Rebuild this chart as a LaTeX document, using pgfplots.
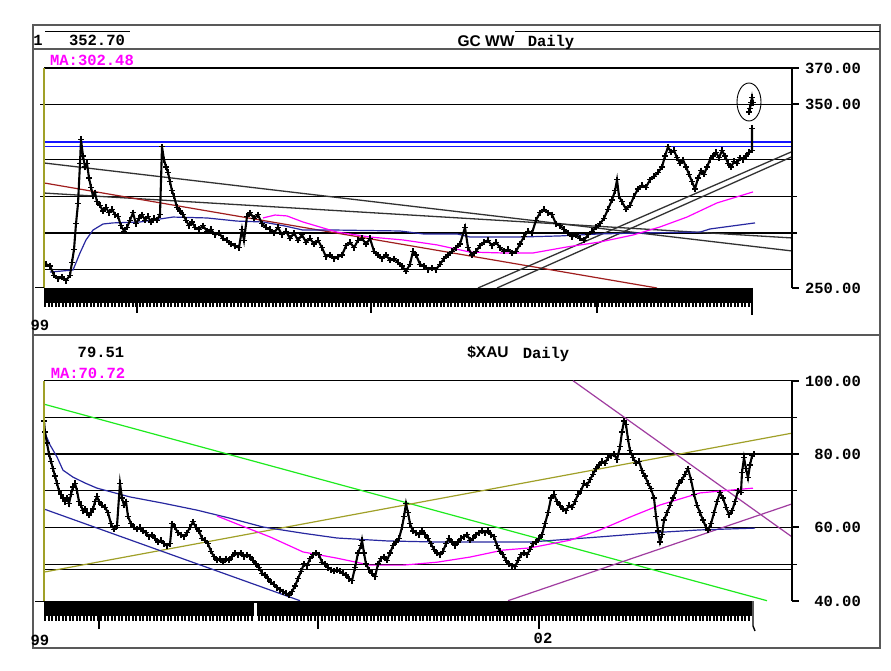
\documentclass[border=0pt]{standalone}
\usepackage{pgfplots}
\pgfplotsset{compat=1.18}
\usepackage{fontspec}
\setmainfont{Liberation Mono}
\newfontfamily\hsans{Liberation Sans}
\definecolor{mag}{RGB}{255,0,255}
\definecolor{mablue}{RGB}{40,40,160}
\definecolor{hblue}{RGB}{20,20,255}
\definecolor{dred}{RGB}{160,30,30}
\definecolor{tgray}{RGB}{50,50,50}
\definecolor{lgreen}{RGB}{30,235,30}
\definecolor{olive}{RGB}{160,160,40}
\definecolor{purp}{RGB}{160,60,160}
\newcommand\lbl{\fontsize{15.5}{15.5}\selectfont\bfseries}
\pgfplotsset{
  panel/.style={anchor=south west, width=748pt, height=220pt, scale only axis,
    xmin=44, xmax=792, hide axis, clip=false},
  lvl/.style={black, line width=1.3pt},
  trend/.style={tgray, line width=1.3pt},
  price/.style={black, line width=2.1pt, mark=+, mark size=3pt, mark options={line width=1.2pt}},
}

\begin{document}
\begin{tikzpicture}
\path[use as bounding box, fill=white] (0pt,0pt) rectangle (891pt,670pt);

% ---------------- GC WW daily ----------------
\begin{axis}[panel, at={(44pt,382pt)}, ymin=250, ymax=370]
  % horizontal levels
  \addplot[lvl] coordinates {(40,350) (797,350)};
  \addplot[lvl] coordinates {(44,370) (797,370)};
  \addplot[lvl] coordinates {(43,320) (792,320)};
  \addplot[lvl] coordinates {(40,300) (797,300)};
  \addplot[lvl] coordinates {(43,280) (797,280)};
  \addplot[lvl] coordinates {(43,260) (792,260)};
  \addplot[hblue, line width=1.4pt] coordinates {(43,329.6) (792,329.6)};
  \addplot[hblue, line width=1.4pt] coordinates {(43,327.3) (792,327.3)};
  % trend lines
  \addplot[trend] coordinates {(44,318.2) (792,270.2)};
  \addplot[trend] coordinates {(44,301.8) (792,277.3)};
  \addplot[dred, line width=1.2pt] coordinates {(44,307.3) (657,250)};
  \addplot[trend] coordinates {(478,250) (792,324.4)};
  \addplot[trend] coordinates {(497,250) (792,321.6)};
  % moving averages
  \addplot[mablue, line width=1.2pt] coordinates {
    (50,258.7) (73,259.8) (80,269.1) (86,276.2) (93,281.6) (103,284.9) (113,285.5)
    (140,286.0) (173,288.7) (207,288.2) (237,286.5) (263,286.0) (285,283.8) (303,281.6)
    (337,281.6) (400,281.1) (423,279.5) (457,279.5) (470,277.8) (520,277.8) (560,278.4)
    (600,279.5) (640,280.0) (700,280.5) (710,282.2) (755,285.5)};
  \addplot[mag, line width=1.2pt] coordinates {
    (263,288.2) (275,289.8) (287,289.3) (303,286.0) (337,280.5) (370,277.8) (403,276.2)
    (437,273.5) (470,269.6) (503,269.1) (533,269.1) (567,272.4) (600,275.1) (633,278.9)
    (660,283.3) (687,288.7) (717,296.4) (753,302.4)};
  % price
  \addplot[price] coordinates {
    (46,263) (50,262) (54,257) (58,255) (62,256) (66,254) (70,257) (72,264) (74,271)
    (76,285) (78,296) (80,318) (81,331) (83,322) (85,316) (87,318) (89,310) (91,305)
    (93,300) (95,302) (97,297) (100,295) (103,292) (106,294) (109,291) (112,293)
    (115,290) (118,289) (121,284) (124,281) (127,283) (130,287) (133,291) (136,285)
    (139,288) (142,290) (145,287) (148,289) (151,286) (154,288) (157,287) (160,290)
    (162,327) (164,320) (166,316) (168,313) (170,308) (172,303) (174,300) (177,294)
    (180,292) (183,290) (186,287) (189,284) (192,286) (195,283) (199,282) (203,284)
    (207,281) (211,282) (215,279) (219,280) (223,277) (227,276) (231,274) (235,273)
    (239,272) (242,282) (244,276) (247,289) (250,291) (254,288) (258,290) (262,285)
    (266,283) (270,282) (274,280) (278,283) (282,279) (286,281) (290,277) (294,280)
    (298,276) (302,279) (306,275) (310,277) (314,274) (318,276) (322,272) (326,267)
    (330,268) (334,266) (338,267) (342,268) (346,273) (350,275) (354,272) (358,276)
    (362,277) (366,274) (370,277) (374,270) (378,268) (382,266) (386,268) (390,265)
    (394,266) (398,264) (402,262) (406,259) (410,263) (413,270) (416,268) (420,263)
    (424,262) (428,260) (432,261) (436,260) (440,263) (444,266) (448,268) (452,270)
    (456,272) (460,274) (465,283) (468,272) (472,268) (476,270) (480,273) (484,275)
    (488,276) (492,273) (496,275) (500,272) (504,270) (508,271) (512,269) (516,270)
    (520,274) (524,278) (528,281) (532,280) (536,287) (540,291) (544,293) (548,291)
    (552,290) (556,285) (560,284) (564,282) (568,280) (572,278) (576,279) (580,277)
    (584,276) (588,279) (592,281) (596,283) (600,285) (604,288) (608,293) (612,298)
    (615,303) (617,309) (619,300) (622,297) (626,293) (630,295) (634,300) (638,304)
    (642,306) (646,305) (650,309) (654,311) (658,313) (662,316) (665,322) (668,327)
    (671,324) (674,325) (677,321) (680,318) (683,320) (686,316) (689,312) (692,308)
    (695,304) (698,310) (701,314) (704,312) (707,316) (710,320) (713,322) (716,324)
    (719,321) (722,325) (725,322) (728,318) (731,316) (734,319) (737,318) (740,321)
    (743,320) (746,322) (749,324) (752,325) (752,337)};
  \addplot[price] coordinates {(749,346) (751,351) (750,348) (752,354) (753,351)};
\end{axis}

% ---------------- $XAU daily ----------------
\begin{axis}[panel, at={(44pt,69.3pt)}, ymin=40, ymax=100]
  \addplot[lvl] coordinates {(44,100) (797,100)};
  \addplot[lvl] coordinates {(44,90) (797,90)};
  \addplot[lvl] coordinates {(44,80) (797,80)};
  \addplot[lvl] coordinates {(44,70) (797,70)};
  \addplot[lvl] coordinates {(44,60) (797,60)};
  \addplot[lvl] coordinates {(44,49.8) (797,49.8)};
  \addplot[lvl] coordinates {(44,48.6) (792,48.6)};
  % trend lines
  \addplot[lgreen, line width=1.2pt] coordinates {(44,93.6) (767,40)};
  \addplot[olive, line width=1.2pt] coordinates {(44,47.8) (792,85.7)};
  \addplot[mablue, line width=1.2pt] coordinates {(44,65.0) (300,40)};
  \addplot[purp, line width=1.2pt] coordinates {(573,100) (792,57.4)};
  \addplot[purp, line width=1.2pt] coordinates {(508,40) (792,66.4)};
  % moving averages
  \addplot[mablue, line width=1.2pt] coordinates {
    (45,85.7) (50,82.5) (57,79.2) (63,75.6) (73,73.7) (85,72.1) (97,70.7) (130,68.3)
    (163,66.6) (197,64.7) (230,62.5) (263,60.1) (303,58.4) (337,57.1) (387,56.3)
    (437,56.0) (530,56.0) (600,57.4) (650,58.5) (700,59.3) (755,59.8)};
  \addplot[mag, line width=1.2pt] coordinates {
    (217,63.1) (240,60.6) (270,57.4) (303,53.3) (337,51.6) (370,49.7) (403,49.7)
    (437,50.5) (470,51.9) (503,53.8) (530,54.4) (570,56.5) (600,59.3) (630,62.8)
    (660,66.1) (700,69.4) (753,70.7)};
  % price
  \addplot[price] coordinates {
    (44,89) (45,86) (47,83) (49,80) (51,78) (53,76) (55,74) (57,72) (59,70) (61,69)
    (63,68) (65,67) (67,68) (69,66.5) (71,69) (73,71) (75,72) (77,70) (79,67) (81,66)
    (83,64.5) (85,65) (87,64) (89,63.5) (91,64) (93,65) (95,67) (97,68.5) (99,67)
    (102,66) (105,65.5) (108,64) (111,61) (114,59.5) (117,60.5) (120,72) (122,68)
    (124,66) (126,67) (128,63) (131,61) (134,60) (137,59.5) (140,60) (143,59)
    (146,58.5) (149,57.5) (152,58) (155,57) (158,56) (161,56.5) (164,55.5) (167,55)
    (170,55.5) (172,61) (175,60) (178,58.5) (181,58) (184,57.5) (187,58.5) (190,60)
    (193,61.5) (196,60) (199,59) (202,57) (205,56.5) (208,55.5) (211,53.5) (214,52)
    (217,51) (220,51.5) (223,50.5) (226,51.5) (229,51) (232,52) (235,53) (238,52.5)
    (241,53) (244,52) (247,52.5) (250,52) (253,51) (256,50) (259,49) (262,47.5)
    (265,47) (268,46) (271,45) (274,44.5) (277,43.5) (280,43) (283,42.5) (286,42)
    (289,41.5) (292,42.5) (295,44) (298,46) (301,48) (304,50) (307,49.5) (310,51.5)
    (313,52.5) (316,53) (319,52.5) (322,50.5) (325,50) (328,49) (331,48.5) (334,48)
    (337,48.5) (340,48) (343,47.5) (346,47) (349,46) (352,45.5) (355,49) (358,53)
    (361,55) (362,56.5) (364,53) (366,50) (369,48.5) (372,47.5) (375,46.5) (378,50)
    (381,51.5) (384,52) (387,51) (390,53) (393,55) (396,56) (399,57) (402,60)
    (404,63) (406,66.5) (408,64) (410,61) (413,59) (416,58.5) (419,58) (422,59)
    (425,58) (428,57) (431,55.5) (434,54) (437,53) (440,52.5) (443,53.5) (446,55.5)
    (449,57) (452,56) (455,55) (458,56) (461,57) (464,57.5) (467,58) (470,56.5)
    (473,57) (476,58) (479,58.5) (482,59) (485,58.5) (488,59) (491,58) (494,57.5)
    (497,55) (500,53.5) (503,52.5) (506,51) (509,50) (512,49.5) (515,49.3) (518,51)
    (521,52.5) (524,53) (527,52.5) (530,54) (533,55.5) (536,56) (539,57) (542,58)
    (545,61) (548,64) (551,68) (554,69) (557,67) (560,66) (563,65) (566,64.5)
    (569,66) (572,65.5) (575,67) (578,69) (581,70) (584,72) (587,71.5) (590,73)
    (593,74.5) (596,76) (599,77) (602,78) (605,77.5) (608,79) (611,79.5) (614,80)
    (617,78.5) (620,82) (622,86) (624,89) (626,88) (628,84) (630,81) (633,79)
    (636,77.5) (639,78) (642,75.5) (645,74) (648,72) (651,70.5) (654,68) (656,63)
    (658,59) (660,56) (662,58) (664,62) (667,64) (670,66) (673,68) (676,70) (679,72)
    (682,73) (685,74.5) (688,76) (691,73) (694,69) (697,66) (700,64) (703,62) (706,60)
    (708,59.3) (711,61) (714,64) (717,67) (720,69.5) (723,68) (726,65.5) (729,63.5)
    (732,64.5) (735,67) (738,70) (741,69.6) (742,75) (744,79) (746,76) (748,73.5)
    (750,77) (752,79.5) (754,80)};
\end{axis}

% ---------------- frame, bands, labels (image pixel coordinates) ----------------
\begin{scope}[x=1pt, y=1pt, shift={(0pt,670pt)}, yscale=-1, every node/.style={font=\lbl, inner sep=0pt}]
  \draw[black!65, line width=1.6pt] (33,25) rectangle (880,648);
  \draw[black!65, line width=1.2pt] (33,49) -- (880,49);
  \draw[black!65, line width=1.2pt] (33,335) -- (880,335);
  \draw[black, line width=1pt] (45,32) -- (130,32);
  \draw[black, line width=1pt] (515,32) -- (880,32);
  % left olive edges
  \draw[olive, line width=1.2pt] (44,68) -- (44,288);
  \draw[olive, line width=1.2pt] (44,381) -- (44,601);
  \draw[black, line width=1pt] (35,287.5) -- (44,287.5);
  \draw[black, line width=1pt] (35,601) -- (44,601);
  % right axes
  \draw[black, line width=1.2pt] (792,68) -- (792,288);
  \draw[black, line width=1.2pt] (792,381) -- (792,601);
  \foreach \yy in {68,104,288} \draw[black, line width=1.2pt] (792,\yy) -- (799,\yy);
  \foreach \yy in {381,454,527,601} \draw[black, line width=1.2pt] (792,\yy) -- (799,\yy);
  \node[anchor=east] at (861,68) {370.00};
  \node[anchor=east] at (861,104) {350.00};
  \node[anchor=east] at (861,288) {250.00};
  \node[anchor=east] at (861,381) {100.00};
  \node[anchor=east] at (861,454) {80.00};
  \node[anchor=east] at (861,527) {60.00};
  \node[anchor=east] at (861,601) {40.00};
  % time bands
  \fill[black] (44,288) rectangle (752,303);
  \foreach \i in {45,48.5,...,751} \draw[black, line width=2pt] (\i,302) -- (\i,307.5);
  \foreach \i in {137,371,597} \draw[black, line width=1.4pt] (\i,303) -- (\i,313);
  \draw[black, line width=1.4pt] (752,288) -- (752,315);
  \fill[black] (44,601) rectangle (752,616);
  \foreach \i in {45,48.5,...,751} \draw[black, line width=2pt] (\i,615) -- (\i,620.5);
  \fill[white] (253.5,603) rectangle (256.5,620.5);
  \foreach \i in {99,318,539} \draw[black, line width=1.4pt] (\i,616) -- (\i,629);
  \draw[black, line width=1.4pt] (753,601) -- (753,626) -- (755,631);
  % circle round the last bars
  \draw[black, line width=0.9pt] (749,102) ellipse [x radius=12, y radius=19];
  % headers
  \node at (38,40) {1};
  \node at (97,40) {352.70};
  \node at (486,41) {\hsans GC WW};
  \node at (551,42) {Daily};
  \node[text=mag] at (92,60) {MA:302.48};
  \node at (40,325) {99};
  \node at (101,352) {79.51};
  \node at (488,352) {\hsans\$XAU};
  \node at (546,354) {Daily};
  \node[text=mag] at (88,373) {MA:70.72};
  \node at (40,640) {99};
  \node at (543,638) {02};
\end{scope}
\end{tikzpicture}
\end{document}
